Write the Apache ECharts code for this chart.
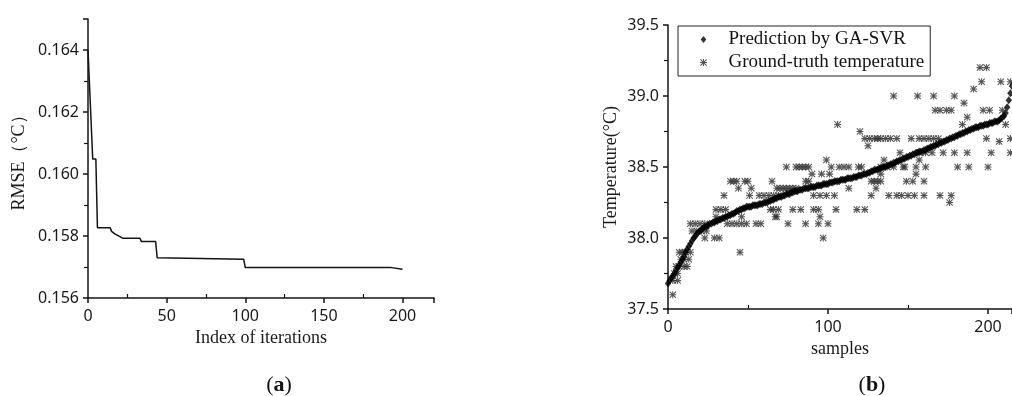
<!DOCTYPE html>
<html><head><meta charset="utf-8">
<script src="https://cdn.jsdelivr.net/npm/echarts@6/dist/echarts.min.js"></script>
<style>html,body{margin:0;padding:0;background:#fff}#c{width:1012px;height:396px}</style>
</head><body><div id="c"></div>
<script>
// ---- Chart (a): RMSE vs iterations ----
const iterX = [0, 3, 5, 6, 14, 15, 16, 17, 18, 20, 22, 33, 34, 43, 44, 45, 99, 100, 193, 194, 200];
const rmseY = [0.16400, 0.16048, 0.16048, 0.15827, 0.15827, 0.15815, 0.15811, 0.15807, 0.15803, 0.15799, 0.15793, 0.15793, 0.15782, 0.15782, 0.15730, 0.15725, 0.15725, 0.15698, 0.15698, 0.15693, 0.15693];

// ---- Chart (b): prediction (index = sample) ----
const predValues = [
  37.68, 37.70, 37.72, 37.73, 37.75, 37.77, 37.79, 37.81, 37.83, 37.85,
  37.87, 37.90, 37.92, 37.94, 37.96, 37.98, 38.00, 38.01, 38.03, 38.04,
  38.05, 38.06, 38.07, 38.08, 38.08, 38.09, 38.10, 38.10, 38.11, 38.11,
  38.12, 38.12, 38.13, 38.13, 38.14, 38.14, 38.15, 38.15, 38.16, 38.16,
  38.17, 38.17, 38.18, 38.19, 38.19, 38.20, 38.20, 38.21, 38.21, 38.22,
  38.22, 38.22, 38.22, 38.23, 38.23, 38.23, 38.23, 38.24, 38.24, 38.24,
  38.25, 38.25, 38.25, 38.26, 38.26, 38.27, 38.27, 38.28, 38.28, 38.29,
  38.29, 38.29, 38.30, 38.30, 38.31, 38.31, 38.31, 38.32, 38.32, 38.33,
  38.33, 38.33, 38.34, 38.34, 38.34, 38.35, 38.35, 38.35, 38.35, 38.36,
  38.36, 38.36, 38.36, 38.37, 38.37, 38.37, 38.37, 38.38, 38.38, 38.38,
  38.38, 38.39, 38.39, 38.39, 38.40, 38.40, 38.40, 38.40, 38.41, 38.41,
  38.41, 38.41, 38.42, 38.42, 38.42, 38.42, 38.43, 38.43, 38.43, 38.44,
  38.44, 38.44, 38.45, 38.45, 38.45, 38.46, 38.46, 38.47, 38.47, 38.48,
  38.48, 38.48, 38.49, 38.49, 38.50, 38.50, 38.50, 38.51, 38.51, 38.52,
  38.52, 38.53, 38.53, 38.54, 38.54, 38.55, 38.55, 38.56, 38.56, 38.57,
  38.57, 38.58, 38.58, 38.59, 38.59, 38.60, 38.60, 38.61, 38.61, 38.61,
  38.62, 38.62, 38.63, 38.63, 38.64, 38.64, 38.65, 38.65, 38.66, 38.66,
  38.67, 38.67, 38.68, 38.68, 38.69, 38.69, 38.70, 38.70, 38.71, 38.71,
  38.72, 38.72, 38.73, 38.73, 38.74, 38.74, 38.75, 38.75, 38.76, 38.76,
  38.77, 38.77, 38.78, 38.78, 38.78, 38.79, 38.79, 38.79, 38.80, 38.80,
  38.80, 38.81, 38.81, 38.81, 38.82, 38.82, 38.82, 38.83, 38.84, 38.85,
  38.86, 38.88, 38.92, 38.97, 39.02, 39.07
];

// ---- Chart (b): ground truth (sample, temperature) ----
const truthSamples = [
  3,
  3, 6,
  4, 6,
  5, 7, 10, 12,
  8, 10, 13,
  7, 9, 11, 14, 45,
  23, 29, 32, 97,
  15, 18, 21, 24,
  14, 17, 20, 23, 37, 40, 43, 46, 49, 55, 58, 75, 86, 94, 100,
  30, 46, 67, 68, 95,
  30, 33, 36, 64, 66, 69, 78, 83, 91, 94, 105, 118, 123,
  176,
  35, 51, 57, 60, 63, 66, 69, 91, 95, 99, 104, 127, 138, 143, 146, 150, 154, 160, 170, 177,
  44, 52, 68, 70, 72, 74, 76, 78, 80, 113, 130,
  39, 41, 43, 48, 50, 65, 86, 88, 127, 129, 131, 133, 149, 153, 160,
  90, 96, 101, 133, 155,
  74, 80, 82, 84, 86, 88, 102, 107, 110, 113, 119, 121, 133, 137, 141, 147, 148, 155, 161, 181, 188, 200,
  99, 135, 157,
  145, 157, 161, 165, 172, 179, 187, 202, 214,
  125,
  123, 126, 129, 131, 133, 136, 139, 143, 152, 157, 160, 163, 166, 169, 199, 214,
  207,
  120,
  106, 184, 211,
  187,
  167, 170, 174, 177, 197, 201, 209,
  185,
  141, 156, 166, 179,
  191,
  196, 208, 214,
  195, 199
];
const truthTemps = [
  37.6,
  37.7, 37.7,
  37.75, 37.75,
  37.8, 37.8, 37.8, 37.8,
  37.85, 37.85, 37.85,
  37.9, 37.9, 37.9, 37.9, 37.9,
  38.0, 38.0, 38.0, 38.0,
  38.05, 38.05, 38.05, 38.05,
  38.1, 38.1, 38.1, 38.1, 38.1, 38.1, 38.1, 38.1, 38.1, 38.1, 38.1, 38.1, 38.1, 38.1, 38.1,
  38.15, 38.15, 38.15, 38.15, 38.15,
  38.2, 38.2, 38.2, 38.2, 38.2, 38.2, 38.2, 38.2, 38.2, 38.2, 38.2, 38.2, 38.2,
  38.25,
  38.3, 38.3, 38.3, 38.3, 38.3, 38.3, 38.3, 38.3, 38.3, 38.3, 38.3, 38.3, 38.3, 38.3, 38.3, 38.3, 38.3, 38.3, 38.3, 38.3,
  38.35, 38.35, 38.35, 38.35, 38.35, 38.35, 38.35, 38.35, 38.35, 38.35, 38.35,
  38.4, 38.4, 38.4, 38.4, 38.4, 38.4, 38.4, 38.4, 38.4, 38.4, 38.4, 38.4, 38.4, 38.4, 38.4,
  38.45, 38.45, 38.45, 38.45, 38.45,
  38.5, 38.5, 38.5, 38.5, 38.5, 38.5, 38.5, 38.5, 38.5, 38.5, 38.5, 38.5, 38.5, 38.5, 38.5, 38.5, 38.5, 38.5, 38.5, 38.5, 38.5, 38.5,
  38.55, 38.55, 38.55,
  38.6, 38.6, 38.6, 38.6, 38.6, 38.6, 38.6, 38.6, 38.6,
  38.65,
  38.7, 38.7, 38.7, 38.7, 38.7, 38.7, 38.7, 38.7, 38.7, 38.7, 38.7, 38.7, 38.7, 38.7, 38.7, 38.7,
  38.68,
  38.75,
  38.8, 38.8, 38.8,
  38.85,
  38.9, 38.9, 38.9, 38.9, 38.9, 38.9, 38.9,
  38.95,
  39.0, 39.0, 39.0, 39.0,
  39.05,
  39.1, 39.1, 39.1,
  39.2, 39.2
];

const leftYTitle = 'RMSE（°C）';
const leftXTitle = 'Index of iterations';
const rightYTitle = 'Temperature(°C)';
const rightXTitle = 'samples';
const predName = 'Prediction by GA-SVR';
const truthName = 'Ground-truth temperature';

const SANS = 'Noto Sans';
const SERIF = 'Liberation Serif, Times New Roman, serif';
const INK = '#141414';

const asterisk = 'path://M4.25 0L5.75 0L5.75 10L4.25 10Z M0 4.25L10 4.25L10 5.75L0 5.75Z M1.06 0L10 8.94L8.94 10L0 1.06Z M8.94 0L10 1.06L1.06 10L0 8.94Z';
const diamond = 'path://M5 0L9 5L5 10L1 5Z';

function axisBase(isX) {
  return {
    splitLine: {show: false},
    minorSplitLine: {show: false},
    axisLine: {show: true, onZero: false, lineStyle: {color: INK, width: 1.5}},
    axisTick: {show: true, inside: false, length: 5, lineStyle: {color: INK, width: 1.5}},
    minorTick: {show: true, splitNumber: 2, length: isX ? -4 : 4, lineStyle: {color: INK, width: 1.2}},
    axisLabel: {fontFamily: SANS, fontSize: 16, color: '#1a1a1a', margin: isX ? 10 : 9, showMaxLabel: false},
    nameLocation: 'middle',
    nameTextStyle: {fontFamily: SERIF, fontSize: 18, color: '#1a1a1a'}
  };
}

const chart = echarts.init(document.getElementById('c'), null, {renderer: 'canvas'});
chart.setOption({
  animation: false,
  backgroundColor: '#fff',
  grid: [
    {left: 88, top: 19, width: 346, height: 279, containLabel: false},
    {left: 668, top: 25, width: 344, height: 284, containLabel: false}
  ],
  xAxis: [
    Object.assign(axisBase(true), {type: 'value', gridIndex: 0, min: 0, max: 220, interval: 50,
      name: leftXTitle, nameGap: 31}),
    Object.assign(axisBase(true), {type: 'value', gridIndex: 1, min: 0, max: 215, interval: 100,
      name: rightXTitle, nameGap: 29})
  ],
  yAxis: [
    Object.assign(axisBase(false), {type: 'value', gridIndex: 0, min: 0.156, max: 0.165, interval: 0.002,
      name: leftYTitle, nameGap: 60,
      axisLabel: Object.assign(axisBase(false).axisLabel, {formatter: v => v.toFixed(3)})}),
    Object.assign(axisBase(false), {type: 'value', gridIndex: 1, min: 37.5, max: 39.5, interval: 0.5,
      name: rightYTitle, nameGap: 48,
      axisLabel: Object.assign(axisBase(false).axisLabel, {showMaxLabel: true, formatter: v => v.toFixed(1)})})
  ],
  legend: {
    orient: 'vertical', left: 678, top: 26,
    data: [predName, truthName],
    itemWidth: 40, itemHeight: 7, itemGap: 3,
    symbolKeepAspect: true,
    padding: [3.5, 6, 3.5, 22],
    borderColor: '#222', borderWidth: 1,
    textStyle: {fontFamily: SERIF, fontSize: 19, color: INK, lineHeight: 20},
    selectedMode: false
  },
  series: [
    {type: 'line', xAxisIndex: 0, yAxisIndex: 0, showSymbol: false, symbol: 'none',
     lineStyle: {color: INK, width: 1.5},
     data: iterX.map((x, i) => [x, rmseY[i]])},
    {type: 'scatter', name: truthName, xAxisIndex: 1, yAxisIndex: 1,
     symbol: asterisk, symbolSize: 7, itemStyle: {color: '#2a2a2a'},
     data: truthSamples.map((s, i) => [s, truthTemps[i]])},
    {type: 'scatter', name: predName, xAxisIndex: 1, yAxisIndex: 1,
     symbol: diamond, symbolSize: 8, symbolKeepAspect: true, itemStyle: {color: '#000'},
     data: predValues.map((v, i) => [i, v])}
  ],
  graphic: [
    {type: 'text', x: 279, y: 385, style: {text: '{p|(}{b|a}{p|)}', align: 'center', verticalAlign: 'middle',
      rich: {p: {fontFamily: SERIF, fontSize: 22, fill: INK}, b: {fontFamily: SERIF, fontSize: 22, fontWeight: 'bold', fill: INK}}}},
    {type: 'text', x: 872, y: 385, style: {text: '{p|(}{b|b}{p|)}', align: 'center', verticalAlign: 'middle',
      rich: {p: {fontFamily: SERIF, fontSize: 22, fill: INK}, b: {fontFamily: SERIF, fontSize: 22, fontWeight: 'bold', fill: INK}}}}
  ]
});
</script>
</body></html>
